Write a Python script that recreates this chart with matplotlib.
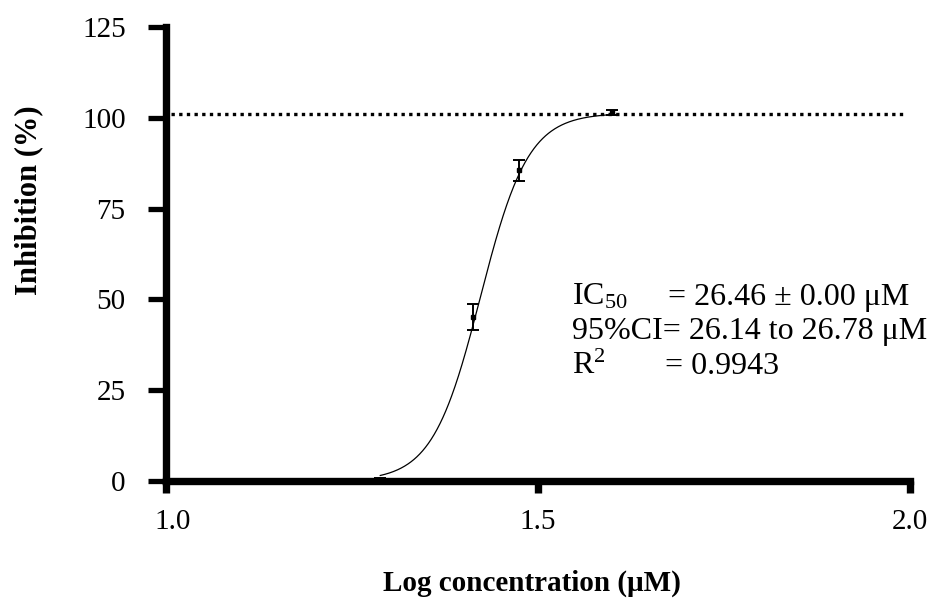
import numpy as np
import matplotlib
matplotlib.use("Agg")
import matplotlib.pyplot as plt
from matplotlib.transforms import ScaledTranslation

# Measured inhibition (mean ± error) at each log concentration
log_conc = [1.288, 1.412, 1.474, 1.599]
inhibition = [0.3, 45.2, 85.5, 101.5]
inhibition_err = [0.5, 3.5, 3.0, 0.6]

# Fitted dose-response parameters
ic50 = 26.46
top = 101.3
bottom = 0.0
hill = 13.5
plateau = 101.1

x_ticks = [1.0, 1.5, 2.0]
x_tick_labels = ["1.0", "1.5", "2.0"]
y_ticks = [0, 25, 50, 75, 100, 125]

plt.rcParams["font.family"] = ["Liberation Serif", "DejaVu Serif"]
plt.rcParams["mathtext.fontset"] = "custom"
plt.rcParams["mathtext.rm"] = "Liberation Serif"
plt.rcParams["mathtext.it"] = "Liberation Serif:italic"
plt.rcParams["mathtext.bf"] = "Liberation Serif:bold"

fig = plt.figure(figsize=(9.39, 5.99), dpi=100)
ax = fig.add_axes([166 / 939, 118 / 599, (910 - 166) / 939, (481 - 27) / 599])

# Fitted sigmoid curve
xc = np.linspace(log_conc[0], log_conc[-1], 400)
yc = bottom + (top - bottom) / (1 + 10 ** ((np.log10(ic50) - xc) * hill))
ax.plot(xc, yc, color="black", lw=0.9, zorder=3)

# Plateau reference line
ax.plot([1.007, 1.99], [plateau, plateau], color="black", lw=2.4,
        linestyle=(0, (1, 1.3)), dash_capstyle="butt", zorder=2)

# Data points with error bars
ax.errorbar(log_conc, inhibition, yerr=inhibition_err, fmt="s", color="black",
            ms=3.5, capsize=4, elinewidth=1.4, capthick=1.4, zorder=4)

ax.set_xlim(1.0, 2.0)
ax.set_ylim(0, 125)
ax.set_xticks(x_ticks)
ax.set_xticklabels(x_tick_labels)
ax.set_yticks(y_ticks)

for side in ("top", "right"):
    ax.spines[side].set_visible(False)
for side in ("left", "bottom"):
    ax.spines[side].set_linewidth(5.3)
    ax.spines[side].set_capstyle("projecting")

ax.tick_params(axis="both", direction="out", labelsize=21, color="black")
ax.tick_params(axis="x", length=8.5, width=5.3, pad=12)
ax.tick_params(axis="y", length=13, width=3.8, pad=16)

# nudge the first x label off the axis corner
first = ax.get_xticklabels()[0]
first.set_transform(first.get_transform() + ScaledTranslation(7 / 100, 0, fig.dpi_scale_trans))

fig.text(532 / 939, 1 - 583 / 599, "Log concentration (μM)", fontsize=21,
         fontweight="bold", ha="center", va="center")
fig.text(29 / 939, 1 - 200 / 599, "Inhibition (%)", fontsize=22,
         fontweight="bold", ha="center", va="center", rotation=90)

# Fit statistics
fs = 23
x0 = 1.546
ax.text(x0, 48.5, r"IC$_{\mathregular{50}}$", fontsize=fs, va="baseline")
ax.text(1.675, 48.5, "= 26.46 ± 0.00 μM", fontsize=fs, va="baseline")
ax.text(x0, 39.0, "95%CI= 26.14 to 26.78 μM", fontsize=fs, va="baseline")
ax.text(x0, 29.5, r"R$^{\mathregular{2}}$", fontsize=fs, va="baseline")
ax.text(1.671, 29.5, "= 0.9943", fontsize=fs, va="baseline")

fig.savefig("out.png", dpi=100)
